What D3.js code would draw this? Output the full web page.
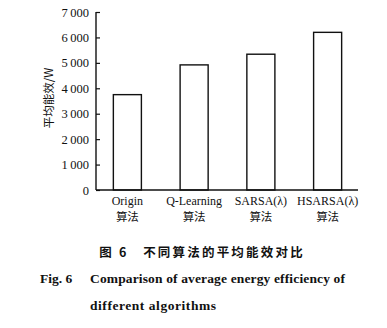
<!DOCTYPE html>
<html>
<head>
<meta charset="utf-8">
<script src="https://cdn.jsdelivr.net/npm/d3@7"></script>
<style>
  body { margin: 0; background: #fff; }
  svg { display: block; }
</style>
</head>
<body>
<div id="chart"></div>
<script>
// 数据
const categories = ['Origin', 'Q-Learning', 'SARSA(\u03bb)', 'HSARSA(\u03bb)'];
const subLabels = ['算法', '算法', '算法', '算法'];
const values = [3750, 4920, 5340, 6200];
const yTicks = [0, 1000, 2000, 3000, 4000, 5000, 6000, 7000];

const w = 387, h = 328;
const serif = '"Liberation Serif", "Times New Roman", serif';
const cjk = '"Noto Sans CJK SC", sans-serif';

const svg = d3.select('#chart').append('svg').attr('width', w).attr('height', h);

const xScale = d3.scaleBand().domain(categories).range([94, 361])
    .paddingInner(0.58).paddingOuter(0.29);
const yScale = d3.scaleLinear().domain([0, 7000]).range([190, 12]);

const fmt = v => v === 0 ? '0' : d3.format(',')(v).replace(',', '\u2009');

// 柱子
svg.selectAll('rect.bar').data(values).enter().append('rect')
    .attr('class', 'bar')
    .attr('x', (d, i) => xScale(categories[i]))
    .attr('y', d => yScale(d))
    .attr('width', xScale.bandwidth())
    .attr('height', d => yScale(0) - yScale(d))
    .attr('fill', '#fff').attr('stroke', '#111').attr('stroke-width', 1.4);

// y轴
const yaxis = d3.axisLeft(yScale).tickValues(yTicks).tickSize(-4).tickPadding(7).tickFormat(fmt);
const gy = svg.append('g').attr('transform', 'translate(96,0)').call(yaxis);
gy.select('.domain').attr('stroke', '#111').attr('stroke-width', 1.4).attr('d', 'M0,12V190');
gy.selectAll('.tick line').attr('stroke', '#111').attr('stroke-width', 1.2);
gy.selectAll('.tick text').attr('font-family', serif).attr('font-size', 12.5).attr('fill', '#111');

// x轴线
svg.append('line').attr('x1', 96).attr('x2', 358).attr('y1', yScale(0)).attr('y2', yScale(0))
    .attr('stroke', '#111').attr('stroke-width', 1.4);

// x标签
const gx = svg.append('g');
gx.selectAll('text.cat').data(categories).enter().append('text')
    .attr('x', d => xScale(d) + xScale.bandwidth() / 2).attr('y', 205)
    .attr('text-anchor', 'middle').attr('font-family', serif).attr('font-size', 12)
    .attr('fill', '#111').text(d => d);
gx.selectAll('text.sub').data(subLabels).enter().append('text')
    .attr('x', (d, i) => xScale(categories[i]) + xScale.bandwidth() / 2).attr('y', 221)
    .attr('text-anchor', 'middle').attr('font-family', cjk).attr('font-size', 11.5)
    .attr('fill', '#111').text(d => d);

// y轴标题
svg.append('text').attr('transform', 'translate(53,98) rotate(-90)')
    .attr('text-anchor', 'middle').attr('font-family', cjk).attr('font-size', 11.5)
    .attr('fill', '#111').text('平均能效/W');

// 图题
svg.append('text').attr('x', 202).attr('y', 257).attr('text-anchor', 'middle')
    .attr('font-family', cjk).attr('font-size', 12.5).attr('font-weight', 'bold')
    .attr('letter-spacing', 2.2).attr('fill', '#111')
    .text('图 6\u3000不同算法的平均能效对比');
svg.append('text').attr('x', 40).attr('y', 283)
    .attr('font-family', serif).attr('font-size', 13.5).attr('font-weight', 'bold').attr('fill', '#111')
    .text('Fig. 6');
svg.append('text').attr('x', 90).attr('y', 283)
    .attr('font-family', serif).attr('font-size', 13.5).attr('font-weight', 'bold').attr('fill', '#111')
    .attr('textLength', 255)
    .text('Comparison of average energy efficiency of');
svg.append('text').attr('x', 90).attr('y', 310)
    .attr('font-family', serif).attr('font-size', 13.5).attr('font-weight', 'bold').attr('fill', '#111')
    .attr('textLength', 126)
    .text('different algorithms');
</script>
</body>
</html>
